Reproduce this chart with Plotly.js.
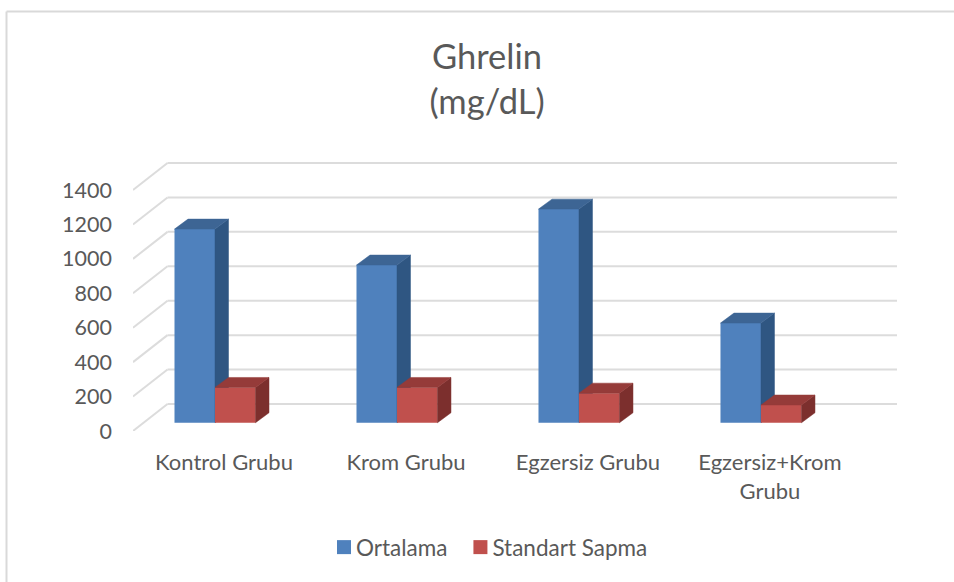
<!DOCTYPE html>
<html><head><meta charset="utf-8">
<script src="https://cdn.plot.ly/plotly-3.0.1.min.js"></script>
<style>html,body{margin:0;padding:0;background:#fff}</style></head>
<body><div id="chart" style="width:954px;height:582px"></div>
<script>
const categories = ["Kontrol Grubu", "Krom Grubu", "Egzersiz Grubu", "Egzersiz+Krom<br>Grubu"];
const ortalama = [1125, 916, 1241, 579];
const standartSapma = [205, 205, 172, 103];
const yTicks = [0, 200, 400, 600, 800, 1000, 1200, 1400];

const W = 954, H = 582, mL = 133, mR = 57, mT = 150, mB = 151;
const xMin = -0.5, xMax = 3.698, yMax = 1632.4;
const font = "Lato, 'Open Sans', sans-serif", textCol = "#595959";
// depth of the fake 3D box, in axis units
const wallDX = 34.5 / 182, wallDY = 156.8, barDX = 0.0742, barDY = 58, lift = 48;
const barW = 0.2225, blueCentre = -0.1607, redCentre = 0.0618;

function faces(vals, centre) {
  const top = {x: [], y: []}, side = {x: [], y: []};
  vals.forEach((v, i) => {
    const l = i + centre - barW / 2, r = i + centre + barW / 2, t = lift + v;
    top.x.push(l, r, r + barDX, l + barDX, l, null);
    top.y.push(t, t, t + barDY, t + barDY, t, null);
    side.x.push(r, r + barDX, r + barDX, r, r, null);
    side.y.push(lift, lift + barDY, t + barDY, t, lift, null);
  });
  return {top, side};
}
function series(name, vals, centre, front, topCol, sideCol, xa, ya) {
  const f = faces(vals, centre);
  const poly = (p, c) => ({type: "scatter", mode: "lines", x: p.x, y: p.y, fill: "toself", fillcolor: c,
    line: {width: 0.5, color: c}, hoverinfo: "skip", showlegend: false, xaxis: xa, yaxis: ya});
  return [
    {type: "bar", name, x: vals.map((_, i) => i + centre), y: vals, base: vals.map(() => lift), width: barW,
     marker: {color: front, line: {width: 0}}, xaxis: xa, yaxis: ya},
    poly(f.side, sideCol), poly(f.top, topCol)
  ];
}
const data = [
  ...series("Ortalama", ortalama, blueCentre, "#4f81bd", "#3d6594", "#2f5682", "x", "y"),
  ...series("Standart Sapma", standartSapma, redCentre, "#c0504d", "#953b39", "#7c2f2d", "x2", "y2")
];
const gridLine = {color: "#dcdcdc", width: 2};
const shapes = [];
yTicks.forEach(v => {
  shapes.push({type: "line", layer: "below", xref: "x", yref: "y", x0: xMin, y0: v, x1: xMin + wallDX, y1: v + wallDY, line: gridLine});
  shapes.push({type: "line", layer: "below", xref: "x", yref: "y", x0: xMin + wallDX, y0: v + wallDY, x1: xMax, y1: v + wallDY, line: gridLine});
});
const pw = W - mL - mR, ph = H - mT - mB;
const px = x => (x - mL) / pw, py = y => 1 - (y - mT) / ph;
const border = {color: "#d9d9d9", width: 2};
shapes.push({type: "line", xref: "paper", yref: "paper", x0: px(6.5), y0: py(11.5), x1: px(954), y1: py(11.5), line: border});
shapes.push({type: "line", xref: "paper", yref: "paper", x0: px(6.5), y0: py(11.5), x1: px(6.5), y1: py(582), line: border});

const layout = {
  width: W, height: H, paper_bgcolor: "#fff", plot_bgcolor: "rgba(0,0,0,0)",
  margin: {l: mL, r: mR, t: mT, b: mB, pad: 0},
  font: {family: font, color: textCol, size: 22},
  title: {text: "Ghrelin<br>(mg/dL)", font: {family: font, size: 34.5, color: textCol}, x: 487 / W, xanchor: "center", xref: "container", y: 0.882, yref: "container", yanchor: "top"},
  barmode: "overlay", showlegend: true,
  legend: {orientation: "h", x: 316 / W, xref: "container", xanchor: "left", y: 1 - 526 / H, yref: "container", yanchor: "top",
           font: {family: font, size: 22.5, color: textCol}, traceorder: "normal", itemclick: false, itemdoubleclick: false},
  xaxis: {range: [xMin, xMax], tickmode: "array", tickvals: categories.map((_, i) => i), ticktext: categories, showgrid: false, zeroline: false, showline: false, ticks: "", ticklabelstandoff: 16, tickfont: {size: 22}},
  yaxis: {range: [0, yMax], tickmode: "array", tickvals: yTicks, ticktext: yTicks.map(String), showgrid: false, zeroline: false, showline: false, ticks: "", ticklabelstandoff: 20, tickfont: {size: 21.5}},
  xaxis2: {range: [xMin, xMax], overlaying: "x", visible: false},
  yaxis2: {range: [0, yMax], overlaying: "y", visible: false},
  shapes
};
Plotly.newPlot("chart", data, layout, {displayModeBar: false, responsive: false}).then(() => {
  // Plotly's legend swatch is fixed at 12px with a wide gap: nudge it to the reference's 14px swatch
  document.querySelectorAll(".legend .legendpoints path").forEach(p => {
    p.setAttribute("d", "M7,7H-7V-7H7Z");
    p.setAttribute("transform", "translate(28,0)");
  });
});
</script></body></html>
